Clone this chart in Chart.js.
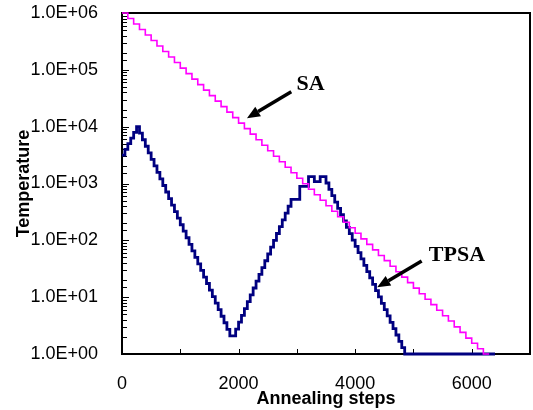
<!DOCTYPE html>
<html>
<head>
<meta charset="utf-8">
<script src="https://cdn.jsdelivr.net/npm/chart.js@4.4.1/dist/chart.umd.min.js"></script>
<style>
  html, body { margin: 0; padding: 0; background: #fff; }
  #wrap { width: 533px; height: 410px; }
</style>
</head>
<body>
<div id="wrap"><canvas id="chart" width="533" height="410"></canvas></div>
<script>
// SA temperature schedule (step, temperature)
const saSteps = [0, 100, 200, 300, 400, 500, 600, 700, 800, 900,
  1000, 1100, 1200, 1300, 1400, 1500, 1600, 1700, 1800, 1900,
  2000, 2100, 2200, 2300, 2400, 2500, 2600, 2700, 2800, 2900,
  3000, 3100, 3200, 3300, 3400, 3500, 3600, 3700, 3800, 3900,
  4000, 4100, 4200, 4300, 4400, 4500, 4600, 4700, 4800, 4900,
  5000, 5100, 5200, 5300, 5400, 5500, 5600, 5700, 5800, 5900,
  6000, 6100, 6200, 6300];
const saTemp = [1000000, 800000, 640000, 512000, 409600, 327680, 262144, 209715, 167772, 134218,
  107374, 85899, 68719, 54976, 43980, 35184, 28147, 22518, 18014, 14412,
  11529, 9223, 7379, 5903, 4722, 3778, 3022, 2418, 1934, 1547,
  1238, 990, 792, 634, 507, 406, 325, 260, 208, 166,
  133, 106, 85, 68, 54, 44, 35, 28, 22.5, 18,
  14.4, 11.5, 9.2, 7.4, 5.9, 4.7, 3.8, 3.0, 2.4, 1.9,
  1.55, 1.24, 1.0, 1.0];

// TPSA temperature schedule
const tpsaSteps = [0, 50, 100, 150, 200, 250,
  300, 350, 400, 450, 500, 550, 600, 650, 700, 750, 800, 850, 900, 950,
  1000, 1050, 1100, 1150, 1200, 1250, 1300, 1350, 1400, 1450, 1500, 1550,
  1600, 1650, 1700, 1750, 1800, 1850,
  1950, 2000, 2050, 2100, 2150, 2200, 2250, 2300, 2350, 2400,
  2450, 2500, 2550, 2600, 2650, 2700, 2750, 2800, 2850, 2900,
  3050, 3200, 3300, 3400,
  3500, 3550, 3600, 3650, 3700, 3750, 3800, 3850, 3900, 3950,
  4000, 4050, 4100, 4150, 4200, 4250, 4300, 4350, 4400, 4450,
  4500, 4550, 4600, 4650, 4700, 4750, 4800, 4850, 6400];
const tpsaTemp = [3162, 3981, 5012, 6310, 7943, 10000,
  7674, 5888, 4519, 3467, 2661, 2042, 1567, 1202, 923, 708, 543, 417, 320, 245,
  188, 145, 111, 85.1, 65.3, 50.1, 38.5, 29.5, 22.6, 17.4, 13.3, 10.2,
  7.85, 6.03, 4.62, 3.55, 2.72, 2.09,
  2.75, 3.63, 4.79, 6.31, 8.32, 11.0, 14.5, 19.1, 25.1, 33.1,
  43.7, 57.5, 75.9, 100, 132, 174, 229, 302, 398, 525,
  891, 1320, 1080, 1320,
  1020, 789, 611, 472, 366, 283, 219, 169, 131, 101,
  78.5, 60.7, 47.0, 36.3, 28.1, 21.8, 16.8, 13.0, 10.1, 7.80,
  6.04, 4.67, 3.61, 2.79, 2.16, 1.67, 1.29, 1, 1];

const xTickLabels = ["0", "2000", "4000", "6000"];
const yTickLabels = ["1.0E+00", "1.0E+01", "1.0E+02", "1.0E+03", "1.0E+04", "1.0E+05", "1.0E+06"];

// text + arrow callouts, in data units
const callouts = [
  { text: "SA", at: [3234, 56200], from: [2904, 41300], to: [2144, 14060] },
  { text: "TPSA", at: [5746, 54], from: [5141, 43.3], to: [4379, 14.9] }
];

function points(xs, ys) {
  return xs.map(function (x, i) { return { x: x, y: ys[i] }; });
}

function isDecade(v) {
  const e = Math.log10(v);
  return Math.abs(e - Math.round(e)) < 1e-9;
}

const frame = {
  id: "frame",
  beforeDatasetsDraw: function (chart) {
    const ctx = chart.ctx, a = chart.chartArea;
    const x = chart.scales.x, y = chart.scales.y;
    ctx.save();
    ctx.strokeStyle = "#000";
    ctx.lineWidth = 1;
    ctx.beginPath();
    x.ticks.forEach(function (t) {
      if (t.value <= x.min || t.value >= x.max) return;
      const px = Math.round(x.getPixelForValue(t.value)) + 0.5;
      ctx.moveTo(px, a.bottom);
      ctx.lineTo(px, a.bottom - 5);
    });
    y.ticks.forEach(function (t) {
      if (t.value <= y.min || t.value >= y.max) return;
      const py = Math.round(y.getPixelForValue(t.value)) + 0.5;
      ctx.moveTo(a.left, py);
      ctx.lineTo(a.left + (isDecade(t.value) ? 7 : 5), py);
    });
    ctx.stroke();
    ctx.lineWidth = 2;
    ctx.strokeRect(a.left, a.top, a.right - a.left, a.bottom - a.top);
    ctx.restore();
  },
  afterDatasetsDraw: function (chart) {
    const ctx = chart.ctx;
    const x = chart.scales.x, y = chart.scales.y;
    ctx.save();
    ctx.fillStyle = "#000";
    ctx.strokeStyle = "#000";
    ctx.font = "bold 22px 'Liberation Serif', 'Times New Roman', serif";
    ctx.textAlign = "center";
    ctx.textBaseline = "middle";
    callouts.forEach(function (c) {
      ctx.fillText(c.text, x.getPixelForValue(c.at[0]), y.getPixelForValue(c.at[1]));
      const x1 = x.getPixelForValue(c.from[0]), y1 = y.getPixelForValue(c.from[1]);
      const x2 = x.getPixelForValue(c.to[0]), y2 = y.getPixelForValue(c.to[1]);
      const ang = Math.atan2(y2 - y1, x2 - x1);
      const head = 13, half = 5.5;
      const bx = x2 - head * Math.cos(ang), by = y2 - head * Math.sin(ang);
      ctx.lineWidth = 3.5;
      ctx.beginPath();
      ctx.moveTo(x1, y1);
      ctx.lineTo(bx, by);
      ctx.stroke();
      ctx.beginPath();
      ctx.moveTo(x2, y2);
      ctx.lineTo(bx + half * Math.sin(ang), by - half * Math.cos(ang));
      ctx.lineTo(bx - half * Math.sin(ang), by + half * Math.cos(ang));
      ctx.closePath();
      ctx.fill();
    });
    ctx.restore();
  }
};

const ctx = document.getElementById("chart").getContext("2d");
const chart = new Chart(ctx, {
  type: "line",
  data: {
    datasets: [
      {
        label: "SA",
        data: points(saSteps, saTemp),
        borderColor: "#ff00ff",
        borderWidth: 1.6,
        stepped: true,
        pointRadius: 0,
        clip: false
      },
      {
        label: "TPSA",
        data: points(tpsaSteps, tpsaTemp),
        borderColor: "#000080",
        borderWidth: 2.8,
        stepped: true,
        pointRadius: 0,
        clip: false
      }
    ]
  },
  options: {
    responsive: false,
    animation: false,
    layout: { padding: { top: 13, right: 3, left: 0, bottom: 0 } },
    plugins: {
      legend: { display: false },
      tooltip: { enabled: false }
    },
    scales: {
      x: {
        type: "linear",
        min: 0,
        max: 7000,
        grid: { display: false },
        border: { display: false },
        ticks: {
          stepSize: 1000,
          padding: 11,
          color: "#000",
          font: { family: "'Liberation Sans', Arial, sans-serif", size: 18 },
          callback: function (v) {
            const i = xTickLabels.indexOf(String(v));
            return i >= 0 ? xTickLabels[i] : "";
          }
        },
        title: {
          display: true,
          text: "Annealing steps",
          color: "#000",
          padding: { top: 0, bottom: 0 },
          font: { family: "'Liberation Sans', Arial, sans-serif", size: 18, weight: "bold" }
        },
        afterFit: function (s) {
          s.height = 56;
          s.paddingLeft = 0;
          s.paddingRight = 0;
        }
      },
      y: {
        type: "logarithmic",
        min: 1,
        max: 1000000,
        grid: { display: false },
        border: { display: false },
        ticks: {
          autoSkip: false,
          padding: 16,
          color: "#000",
          font: { family: "'Liberation Sans', Arial, sans-serif", size: 18 },
          callback: function (v) {
            if (!isDecade(v)) return "";
            return yTickLabels[Math.round(Math.log10(v))];
          }
        },
        title: {
          display: true,
          text: "Temperature",
          color: "#000",
          padding: { top: 13, bottom: 0 },
          font: { family: "'Liberation Sans', Arial, sans-serif", size: 18, weight: "bold" }
        },
        afterFit: function (s) {
          s.width = 122;
          s.paddingTop = 0;
          s.paddingBottom = 0;
        }
      }
    }
  },
  plugins: [frame]
});
</script>
</body>
</html>
